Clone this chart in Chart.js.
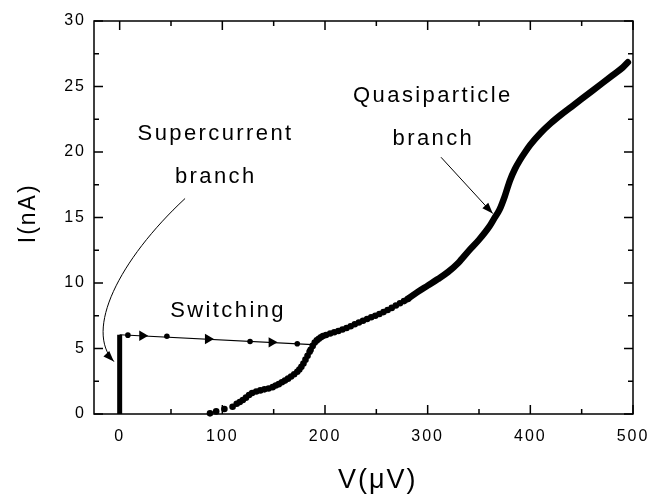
<!DOCTYPE html>
<html>
<head>
<meta charset="utf-8">
<script src="https://cdn.jsdelivr.net/npm/chart.js@4/dist/chart.umd.min.js"></script>
<style>
  html, body { margin: 0; padding: 0; background: #fff; }
  #wrap { width: 648px; height: 495px; }
</style>
</head>
<body>
<div id="wrap"><canvas id="ivChart"></canvas></div>
<script>
const xTickLabels = [0, 100, 200, 300, 400, 500];
const yTickLabels = [0, 5, 10, 15, 20, 25, 30];

// supercurrent branch sits at V = 0
const superV = [0, 0];
const superI = [0, 6.05];

// switching jump: thin line, measured dots, direction markers
const switchV = [0, 188];
const switchI = [6.05, 5.3];
const switchDotV = [8, 46, 127, 173];
const switchDotI = [6.02, 5.93, 5.54, 5.36];
const switchArrowV = [22, 86, 148];
const switchArrowI = [5.97, 5.72, 5.47];

// quasiparticle branch, low part (separate dots)
const qpDotV = [88, 94, 102, 110, 114, 117, 120, 123, 126, 129, 133, 137, 141, 145, 149, 152, 155, 158,
  161, 164, 167, 170, 173, 175, 177, 179, 181, 183, 185, 186, 188, 190, 192, 194, 196, 198, 201,
  205, 209, 213, 217, 221, 225, 229, 233, 237, 241, 245, 249, 253, 257, 261, 265, 269, 273, 277, 281];
const qpDotI = [0.05, 0.2, 0.38, 0.55, 0.78, 0.92, 1.07, 1.25, 1.45, 1.6, 1.72, 1.8, 1.88, 1.95, 2.05, 2.17, 2.28, 2.42,
  2.55, 2.7, 2.86, 3.03, 3.22, 3.4, 3.6, 3.85, 4.15, 4.45, 4.75, 4.9, 5.2, 5.45, 5.62, 5.75, 5.86, 5.95, 6.03,
  6.14, 6.24, 6.34, 6.45, 6.57, 6.7, 6.85, 6.99, 7.12, 7.25, 7.38, 7.5, 7.63, 7.78, 7.94, 8.1, 8.28, 8.45, 8.62, 8.8];

// quasiparticle branch, dense part (reads as a thick curve)
const qpLineV = [280, 290, 300, 310, 320, 330, 340, 350, 360, 365, 370, 375, 380, 385, 390, 395, 400,
  410, 420, 430, 440, 450, 460, 470, 480, 490, 495];
const qpLineI = [8.75, 9.3, 9.8, 10.3, 10.85, 11.55, 12.45, 13.3, 14.3, 14.95, 15.6, 16.6, 17.8, 18.7, 19.4, 20.0, 20.55,
  21.45, 22.2, 22.85, 23.45, 24.05, 24.65, 25.25, 25.85, 26.45, 26.85];

const pts = (xs, ys) => xs.map((v, i) => ({ x: v, y: ys[i] }));

const notes = [
  { text: 'Supercurrent', v: 93.4, i: 21.4 },
  { text: 'branch', v: 93.6, i: 18.1 },
  { text: 'Switching', v: 105.6, i: 7.9 },
  { text: 'Quasiparticle', v: 305.1, i: 24.3 },
  { text: 'branch', v: 305.6, i: 21.0 }
];

Chart.defaults.font.family = '"Liberation Sans", Arial, sans-serif';
Chart.defaults.color = '#000';

function arrowHead(ctx, tx, ty, fx, fy) {
  const a = Math.atan2(ty - fy, tx - fx);
  const len = 11, half = 4;
  ctx.beginPath();
  ctx.moveTo(tx, ty);
  ctx.lineTo(tx - len * Math.cos(a) + half * Math.sin(a), ty - len * Math.sin(a) - half * Math.cos(a));
  ctx.lineTo(tx - len * Math.cos(a) - half * Math.sin(a), ty - len * Math.sin(a) + half * Math.cos(a));
  ctx.closePath();
  ctx.fill();
}

const spacing = {
  id: 'spacing',
  beforeDraw(chart) { chart.ctx.letterSpacing = '2px'; }
};

const frame = {
  id: 'frame',
  afterDraw(chart) {
    const { ctx, chartArea: a, scales: { x, y } } = chart;
    ctx.save();
    ctx.strokeStyle = '#000';
    ctx.lineWidth = 1.5;
    ctx.strokeRect(a.left, a.top, a.right - a.left, a.bottom - a.top);
    ctx.beginPath();
    xTickLabels.forEach((v, k) => {
      const px = x.getPixelForValue(v);
      ctx.moveTo(px, a.bottom); ctx.lineTo(px, a.bottom - 9);
      ctx.moveTo(px, a.top); ctx.lineTo(px, a.top + 9);
      if (k < xTickLabels.length - 1) {
        const m = x.getPixelForValue((v + xTickLabels[k + 1]) / 2);
        ctx.moveTo(m, a.bottom); ctx.lineTo(m, a.bottom - 5);
        ctx.moveTo(m, a.top); ctx.lineTo(m, a.top + 5);
      }
    });
    yTickLabels.forEach((v, k) => {
      const py = y.getPixelForValue(v);
      ctx.moveTo(a.left, py); ctx.lineTo(a.left + 9, py);
      ctx.moveTo(a.right, py); ctx.lineTo(a.right - 9, py);
      if (k < yTickLabels.length - 1) {
        const m = y.getPixelForValue((v + yTickLabels[k + 1]) / 2);
        ctx.moveTo(a.left, m); ctx.lineTo(a.left + 5, m);
        ctx.moveTo(a.right, m); ctx.lineTo(a.right - 5, m);
      }
    });
    ctx.stroke();
    ctx.restore();
  }
};

const notesPlugin = {
  id: 'notes',
  afterDatasetsDraw(chart) {
    const { ctx, scales: { x, y } } = chart;
    ctx.save();
    ctx.fillStyle = '#000';
    ctx.strokeStyle = '#000';
    ctx.font = '22px "Liberation Sans", Arial, sans-serif';
    ctx.letterSpacing = '2.4px';
    ctx.textAlign = 'center';
    ctx.textBaseline = 'middle';
    notes.forEach(n => ctx.fillText(n.text, x.getPixelForValue(n.v), y.getPixelForValue(n.i)));

    // quasiparticle pointer
    ctx.lineWidth = 1;
    const q0 = [x.getPixelForValue(313), y.getPixelForValue(19.6)];
    const q1 = [x.getPixelForValue(363.4), y.getPixelForValue(15.3)];
    ctx.beginPath();
    ctx.moveTo(q0[0], q0[1]);
    ctx.lineTo(q1[0], q1[1]);
    ctx.stroke();
    arrowHead(ctx, q1[0], q1[1], q0[0], q0[1]);

    // supercurrent pointer (curved)
    const p0 = [x.getPixelForValue(63.7), y.getPixelForValue(16.45)];
    const p1 = [x.getPixelForValue(-0.7), y.getPixelForValue(11.75)];
    const p2 = [x.getPixelForValue(-34.8), y.getPixelForValue(6.4)];
    const p3 = [x.getPixelForValue(-5.6), y.getPixelForValue(4.0)];
    ctx.beginPath();
    ctx.moveTo(p0[0], p0[1]);
    ctx.bezierCurveTo(p1[0], p1[1], p2[0], p2[1], p3[0], p3[1]);
    ctx.stroke();
    arrowHead(ctx, p3[0], p3[1], p2[0], p2[1]);
    ctx.restore();
  }
};

new Chart(document.getElementById('ivChart'), {
  type: 'scatter',
  data: {
    datasets: [
      {
        data: pts(superV, superI),
        showLine: true, borderColor: '#000', borderWidth: 5, pointRadius: 0, clip: false
      },
      {
        data: pts(switchV, switchI),
        showLine: true, borderColor: '#000', borderWidth: 1.2, pointRadius: 0, clip: false
      },
      {
        data: pts(switchDotV, switchDotI),
        backgroundColor: '#000', pointRadius: 2.8, pointBorderWidth: 0, clip: false
      },
      {
        data: pts(switchArrowV, switchArrowI),
        backgroundColor: '#000', pointStyle: 'triangle', rotation: 90,
        pointRadius: 6, pointBorderWidth: 0, clip: false
      },
      {
        data: pts(qpDotV, qpDotI),
        backgroundColor: '#000', pointRadius: 3.3, pointBorderWidth: 0, clip: false
      },
      {
        data: pts(qpLineV, qpLineI),
        showLine: true, borderColor: '#000', borderWidth: 6.5, borderCapStyle: 'round',
        cubicInterpolationMode: 'monotone', pointRadius: 0, clip: false
      }
    ]
  },
  options: {
    responsive: true,
    maintainAspectRatio: false,
    animation: false,
    events: [],
    layout: { padding: { top: 21, right: 15, left: 0, bottom: 0 } },
    plugins: { legend: { display: false }, tooltip: { enabled: false } },
    scales: {
      x: {
        type: 'linear', min: -25, max: 500,
        grid: { display: false, drawTicks: false },
        border: { display: false },
        afterBuildTicks: s => { s.ticks = xTickLabels.map(v => ({ value: v })); },
        afterFit: s => { s.height = 81; s.paddingLeft = 0; s.paddingRight = 0; },
        ticks: { font: { size: 16 }, padding: 13, maxRotation: 0 },
        title: { display: true, text: '   V(μV)', font: { size: 27 }, padding: { top: 0, bottom: -2 } }
      },
      y: {
        type: 'linear', min: 0, max: 30,
        grid: { display: false, drawTicks: false },
        border: { display: false },
        afterBuildTicks: s => { s.ticks = yTickLabels.map(v => ({ value: v })); },
        afterFit: s => { s.width = 94; s.paddingTop = 0; s.paddingBottom = 0; },
        ticks: { font: { size: 16 }, padding: 8 },
        title: { display: true, text: ' I(nA)', font: { size: 23 }, padding: { top: 15, bottom: 0 } }
      }
    }
  },
  plugins: [spacing, frame, notesPlugin]
});
</script>
</body>
</html>
